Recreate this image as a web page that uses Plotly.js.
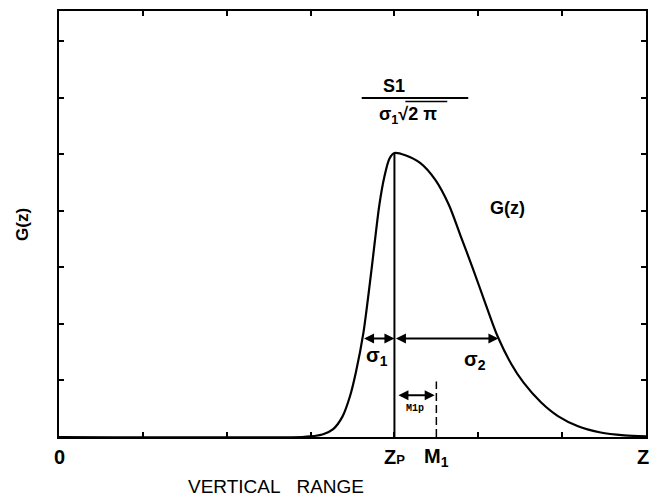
<!DOCTYPE html>
<html>
<head>
<meta charset="utf-8">
<script src="https://cdn.plot.ly/plotly-3.0.1.min.js"></script>
<style>html,body{margin:0;padding:0;background:#fff;}#chart{width:651px;height:496px;}</style>
</head>
<body>
<div id="chart"></div>
<script>
// Curve G(z) (z in axis units 0..7, G in tick units)
const zValues = [0, 2.9, 3.00, 3.15, 3.27, 3.38, 3.47, 3.54, 3.63, 3.73, 3.82, 3.88, 3.94, 4.00,
                 4.13, 4.31, 4.49, 4.65, 4.79, 4.93, 5.08, 5.23, 5.39, 5.54, 5.75, 5.95, 6.19, 6.46, 6.74, 7.00];
const gValues = [0, 0, 0.01, 0.05, 0.14, 0.36, 0.72, 1.14, 1.84, 3.00, 4.10, 4.60, 4.92, 5.02,
                 4.98, 4.84, 4.54, 4.10, 3.55, 3.00, 2.38, 1.78, 1.30, 0.96, 0.61, 0.37, 0.19, 0.08, 0.03, 0.01];

// Characteristic positions
const zPeak = 4.0;         // Zp
const gPeak = 5.02;        // peak height
const zMean = 4.5;         // M1
const meanLineTop = 0.98;  // top of dashed M1 line
const sigmaLevel = 1.74;   // height of sigma arrows
const sigma1Left = 3.62;   // left end of sigma1 arrow
const sigma2Right = 5.24;  // right end of sigma2 arrow
const m1pLevel = 0.74;     // height of M1p arrow

// Tick marks and bottom labels
const frameTicksX = [1, 2, 3, 4, 5, 6];
const frameTicksY = [1, 2, 3, 4, 5, 6, 7];
const xLabelPos = [0, zPeak, zMean, 7];
const xLabelText = ['0', 'Z<span style="font-size:13px">P</span>', 'M<sub>1</sub>', 'Z'];

const font = 'Liberation Sans, Arial, sans-serif';

const annotations = [];
xLabelPos.forEach((p, i) => {
  annotations.push({x: p, y: 0, xref: 'x', yref: 'y', yshift: -20, text: xLabelText[i],
    showarrow: false, font: {family: font, size: 20, color: '#000', weight: 'bold'},
    xanchor: (i === 3 ? 'right' : 'center'), yanchor: 'middle', xshift: (i === 3 ? 5 : 0)});
});
// Double-headed arrows
function dblArrow(x0, x1, y) {
  annotations.push({x: x1, y: y, ax: x0, ay: y, xref: 'x', yref: 'y', axref: 'x', ayref: 'y',
    text: '', showarrow: true, arrowhead: 2, startarrowhead: 2, arrowside: 'end+start',
    arrowsize: 1, startarrowsize: 1, arrowwidth: 2, arrowcolor: '#000', standoff: 0, startstandoff: 0});
}
dblArrow(sigma1Left, zPeak, sigmaLevel);
dblArrow(zPeak, sigma2Right, sigmaLevel);
dblArrow(zPeak + 0.03, zMean - 0.02, m1pLevel);

const L = 59, T = 11, W = 587, H = 426;
annotations.push(
  {x: 3.79, y: 1.43, xref: 'x', yref: 'y', text: 'σ<sub>1</sub>', showarrow: false,
   font: {family: font, size: 20, color: '#000', weight: 'bold'}},
  {x: 4.96, y: 1.36, xref: 'x', yref: 'y', text: 'σ<sub>2</sub>', showarrow: false,
   font: {family: font, size: 20, color: '#000', weight: 'bold'}},
  {x: 4.25, y: 0.50, xref: 'x', yref: 'y', text: 'M1p', showarrow: false,
   font: {family: 'Liberation Mono, monospace', size: 10, color: '#000', weight: 'bold'}},
  {x: 5.35, y: 4.04, xref: 'x', yref: 'y', text: 'G(z)', showarrow: false,
   font: {family: font, size: 18, color: '#000', weight: 'bold'}},
  {x: 4.0, y: 6.20, xref: 'x', yref: 'y', text: 'S1', showarrow: false,
   font: {family: font, size: 18, color: '#000', weight: 'bold'}},
  {x: 4.16, y: 5.68, xref: 'x', yref: 'y', text: 'σ<sub>1</sub>√2 π', showarrow: false,
   font: {family: font, size: 18, color: '#000', weight: 'bold'}},
  {x: (276 - L) / W, y: (T + H - 487) / H, xref: 'paper', yref: 'paper', xanchor: 'center', yanchor: 'middle',
   text: 'VERTICAL\u00A0\u00A0\u00A0RANGE', showarrow: false,
   font: {family: font, size: 19, color: '#000'}},
  {x: (23 - L) / W, y: (T + H - 225) / H, xref: 'paper', yref: 'paper', xanchor: 'center', yanchor: 'middle',
   text: 'G(z)', textangle: -90, showarrow: false,
   font: {family: font, size: 17, color: '#000', weight: 'bold'}}
);

const shapes = [
  {type: 'line', xref: 'x', yref: 'y', x0: zPeak, x1: zPeak, y0: 0, y1: gPeak, line: {color: '#000', width: 2}},
  {type: 'line', xref: 'x', yref: 'y', x0: zMean, x1: zMean, y0: 0, y1: meanLineTop, line: {color: '#000', width: 1.5, dash: '8px,4px'}},
  // fraction bar
  {type: 'line', xref: 'x', yref: 'y', x0: 3.61, x1: 4.88, y0: 5.99, y1: 5.99, line: {color: '#000', width: 2}},
  // vinculum of the square root
  {type: 'line', xref: 'x', yref: 'y', x0: 4.13, x1: 4.63, y0: 5.93, y1: 5.93, line: {color: '#000', width: 1.5}}
];

const data = [{
  x: zValues, y: gValues, type: 'scatter', mode: 'lines',
  line: {color: '#000', width: 2.2, shape: 'spline', smoothing: 0.8},
  hoverinfo: 'skip'
}];

const layout = {
  width: 651, height: 496,
  margin: {l: L, r: 651 - L - W, t: T, b: 496 - T - H, pad: 0},
  paper_bgcolor: '#fff', plot_bgcolor: '#fff',
  showlegend: false,
  xaxis: {range: [0, 7], tickvals: frameTicksX, showticklabels: false, ticks: 'inside', ticklen: 5, tickwidth: 2,
          tickcolor: '#000', showline: true, linecolor: '#000', linewidth: 2, mirror: 'ticks', showgrid: false, zeroline: false, fixedrange: true},
  yaxis: {range: [0, 7.53], tickvals: frameTicksY, showticklabels: false, ticks: 'inside', ticklen: 5, tickwidth: 2,
          tickcolor: '#000', showline: true, linecolor: '#000', linewidth: 2, mirror: 'ticks', showgrid: false, zeroline: false, fixedrange: true},
  annotations: annotations,
  shapes: shapes
};

Plotly.newPlot('chart', data, layout, {displayModeBar: false, staticPlot: true});
</script>
</body>
</html>
